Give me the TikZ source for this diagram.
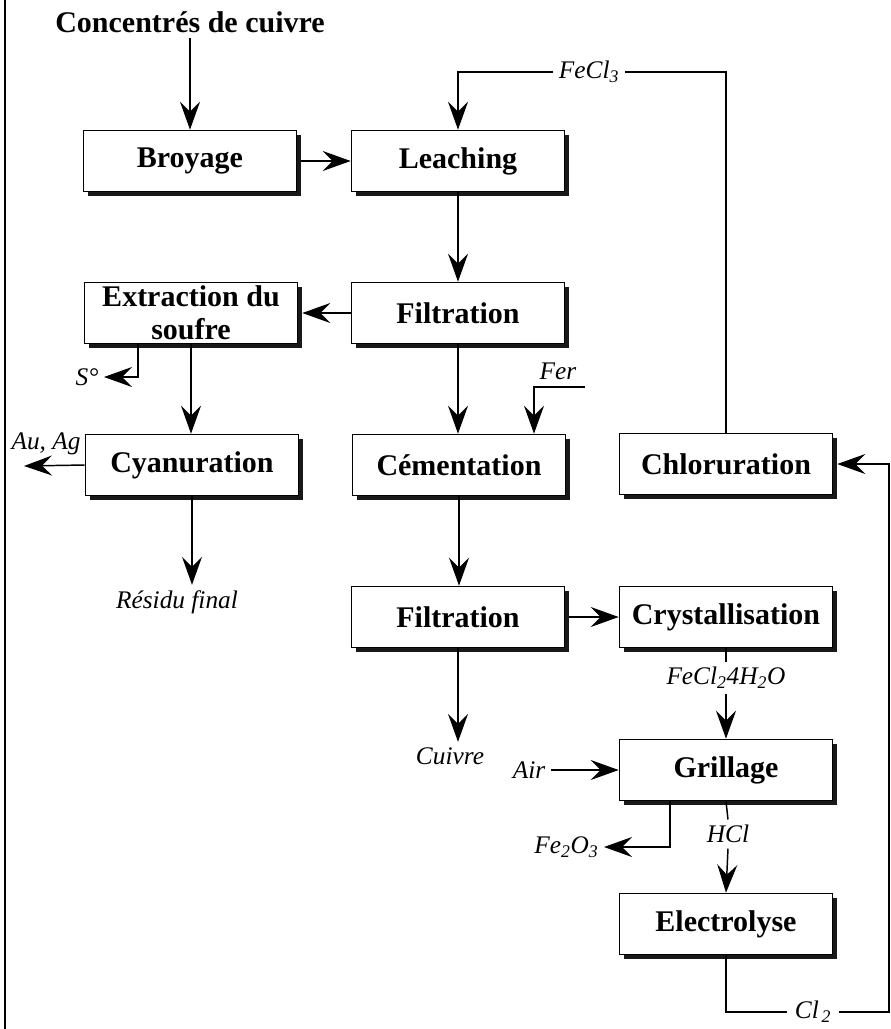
\documentclass[tikz,border=0pt]{standalone}
\usepackage{fontspec}
\setmainfont{Liberation Serif}
\usetikzlibrary{arrows.meta,shadows}
\begin{document}
\begin{tikzpicture}[x=0.75pt,y=-0.75pt,
  proc/.style={draw, line width=1.2pt, fill=white,
    minimum width=159.75pt, minimum height=45.75pt, inner sep=0pt,
    align=center, font=\bfseries\fontsize{22.5}{24.5}\selectfont,
    general shadow={fill=black!90, shadow xshift=3pt, shadow yshift=-3pt}},
  lbl/.style={font=\itshape\fontsize{19}{21}\selectfont, inner sep=4pt},
  flow/.style={line width=1.1pt},
  arr/.style={flow, -{Stealth[length=21pt, width=15pt, inset=7.5pt]}},
]
\useasboundingbox (0,0) rectangle (890,1029);

% page rule on the left
\draw[line width=1.5pt] (5,0) -- (5,1029);

% process boxes
\node[proc] (broyage)  at (190,161) {Broyage};
\node[proc] (leaching) at (458,161) {Leaching};
\node[proc] (extract)  at (191,313) {Extraction du\\soufre};
\node[proc] (filtA)    at (458,313) {Filtration};
\node[proc] (cyan)     at (192,465) {Cyanuration};
\node[proc] (cement)   at (459,465) {Cémentation};
\node[proc] (chlor)    at (726,464) {Chloruration};
\node[proc] (filtB)    at (458,617) {Filtration};
\node[proc] (cryst)    at (726,617) {Crystallisation};
\node[proc] (grill)    at (726,770) {Grillage};
\node[proc] (elec)     at (726,924) {Electrolyse};

% feed and labels
\node[font=\bfseries\fontsize{22.5}{24}\selectfont, inner sep=4pt] (feed) at (190,22) {Concentrés de cuivre};
\node[lbl] (fecl3) at (589,72) {FeCl\textsubscript{3}};
\node[lbl, anchor=east] (sulf) at (104,377) {S°};
\node[lbl] (auag) at (46,444) {Au, Ag};
\node[lbl] (residu) at (177,602) {Résidu final};
\node[lbl] (fer) at (558,371) {Fer};
\node[lbl] (cuivre) at (450,756) {Cuivre};
\node[lbl] (fecl2) at (726,678) {FeCl\textsubscript{2}4H\textsubscript{2}O};
\node[lbl] (air) at (529,770) {Air};
\node[lbl, anchor=east] (fe2o3) at (604,847) {Fe\textsubscript{2}O\textsubscript{3}};
\node[lbl] (hcl) at (728,834) {HCl};
\node[lbl, inner sep=6pt] (cl2) at (813,1012) {Cl\kern2pt\textsubscript{2}};

% bends and free ends
\coordinate (sbend)  at (138,377);
\coordinate (auend)  at (24,466);
\coordinate (ferin)  at (585,387);
\coordinate (ferbend) at (534,387);
\coordinate (febend) at (670,847);
\coordinate (clbend) at (726,1012);
\coordinate (clright) at (889,1012);
\coordinate (chlin)  at (889,464);

% main flow
\draw[arr] (broyage.north |- feed.south) -- (broyage.north);
\draw[arr, shorten <=3pt] (broyage.east) -- (leaching.west);
\draw[arr] (leaching.south) -- (filtA.north);
\draw[arr, shorten >=3pt] (filtA.west) -- (extract.east);
\draw[arr] (extract.south) -- (extract.south |- cyan.north);
\draw[arr] (extract.south -| sbend) -- (sbend) -- (sulf.east);
\draw[arr] (cyan.west) -- (auend);
\draw[arr] (cyan.south) -- (cyan.south |- residu.north);
\draw[arr] (filtA.south) -- (filtA.south |- cement.north);
\draw[arr] (ferin) -- (ferbend) -- (ferbend |- cement.north);
\draw[arr] (cement.south) -- (cement.south |- filtB.north);
\draw[arr, shorten <=3pt] (filtB.east) -- (cryst.west);
\draw[arr] (filtB.south) -- (filtB.south |- cuivre.north);
\draw[flow] (cryst.south) -- (fecl2.north);
\draw[arr] (fecl2.south) -- (grill.north);
\draw[arr] (air.east) -- (grill.west);
\draw[arr] (grill.south -| febend) -- (febend) -- (fe2o3.east);
\draw[flow] (grill.south) -- (hcl.north);
\draw[arr] (hcl.south) -- (elec.north);

% chlorine recycle
\draw[flow] (elec.south) -- (clbend) -- (cl2.west);
\draw[arr, shorten >=3pt] (cl2.east) -- (clright) -- (chlin) -- (chlor.east);

% ferric chloride recycle
\draw[flow] (chlor.north) -- (chlor.north |- fecl3) -- (fecl3.east);
\draw[arr] (fecl3.west) -- (leaching.north |- fecl3) -- (leaching.north);
\end{tikzpicture}
\end{document}
